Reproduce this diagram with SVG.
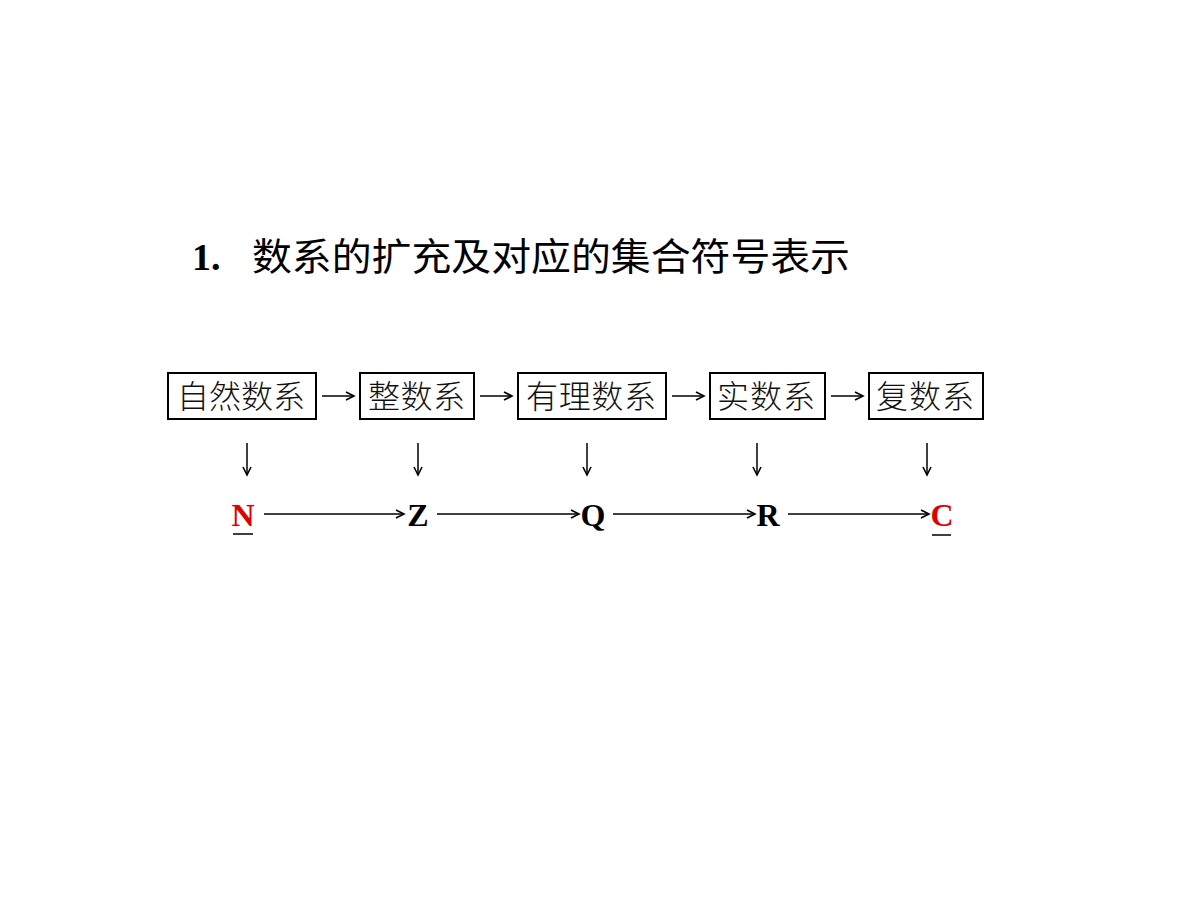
<svg xmlns="http://www.w3.org/2000/svg" width="1200" height="900" viewBox="0 0 1200 900">
<defs>
<marker id="ah" markerWidth="12" markerHeight="12" refX="10" refY="5" orient="auto" markerUnits="userSpaceOnUse">
<path d="M2,1 L10,5 L2,9" fill="none" stroke="#000" stroke-width="1.6"/>
</marker>
</defs>
<style>
.box{fill:#fff;stroke:#000;stroke-width:2}
.bt{font-family:"Noto Sans CJK SC","Noto Sans",sans-serif;font-size:32px;font-weight:300;fill:#111;letter-spacing:2px}
.sym{font-family:"Liberation Serif",serif;font-size:32px;font-weight:bold;text-anchor:middle}
.ln{stroke:#000;stroke-width:1.5;fill:none;marker-end:url(#ah)}
.ul{stroke:#000;stroke-width:1.5}
</style>
<rect width="1200" height="900" fill="#fff"/>
<g id="title">
<text x="192" y="270" font-family="Liberation Serif,serif" font-size="38" font-weight="bold">1.</text>
<text x="252" y="270" font-family="Noto Sans CJK SC,sans-serif" font-size="38" font-weight="400" textLength="598" lengthAdjust="spacingAndGlyphs">数系的扩充及对应的集合符号表示</text>
</g>
<g id="n1"><rect class="box" x="168" y="373" width="148" height="46"/><text class="bt" x="177" y="408" textLength="130">自然数系</text></g>
<g id="n2"><rect class="box" x="360" y="373" width="114" height="46"/><text class="bt" x="368" y="408" textLength="99">整数系</text></g>
<g id="n3"><rect class="box" x="518" y="373" width="148" height="46"/><text class="bt" x="526" y="408" textLength="132">有理数系</text></g>
<g id="n4"><rect class="box" x="710" y="373" width="115" height="46"/><text class="bt" x="717" y="408" textLength="100">实数系</text></g>
<g id="n5"><rect class="box" x="869" y="373" width="114" height="46"/><text class="bt" x="876" y="408" textLength="100">复数系</text></g>
<g id="sN"><text class="sym" x="243" y="526" fill="#e00000">N</text><line class="ul" x1="233" y1="534" x2="253" y2="534"/></g>
<g id="sZ"><text class="sym" x="418" y="526">Z</text></g>
<g id="sQ"><text class="sym" x="593" y="526">Q</text></g>
<g id="sR"><text class="sym" x="768" y="526">R</text></g>
<g id="sC"><text class="sym" x="942" y="526" fill="#e00000">C</text><line class="ul" x1="932" y1="535" x2="951" y2="535"/></g>
<g id="connectors">
<line class="ln" x1="322" y1="396" x2="354" y2="396"/>
<line class="ln" x1="480" y1="396" x2="512" y2="396"/>
<line class="ln" x1="672" y1="396" x2="704" y2="396"/>
<line class="ln" x1="831" y1="396" x2="863" y2="396"/>
<line class="ln" x1="247" y1="443" x2="247" y2="475"/>
<line class="ln" x1="418" y1="443" x2="418" y2="475"/>
<line class="ln" x1="587" y1="443" x2="587" y2="475"/>
<line class="ln" x1="757" y1="443" x2="757" y2="475"/>
<line class="ln" x1="927" y1="443" x2="927" y2="475"/>
<line class="ln" x1="264" y1="514" x2="404" y2="514"/>
<line class="ln" x1="437" y1="514" x2="579" y2="514"/>
<line class="ln" x1="613" y1="514" x2="755" y2="514"/>
<line class="ln" x1="788" y1="514" x2="929" y2="514"/>
</g>
</svg>
